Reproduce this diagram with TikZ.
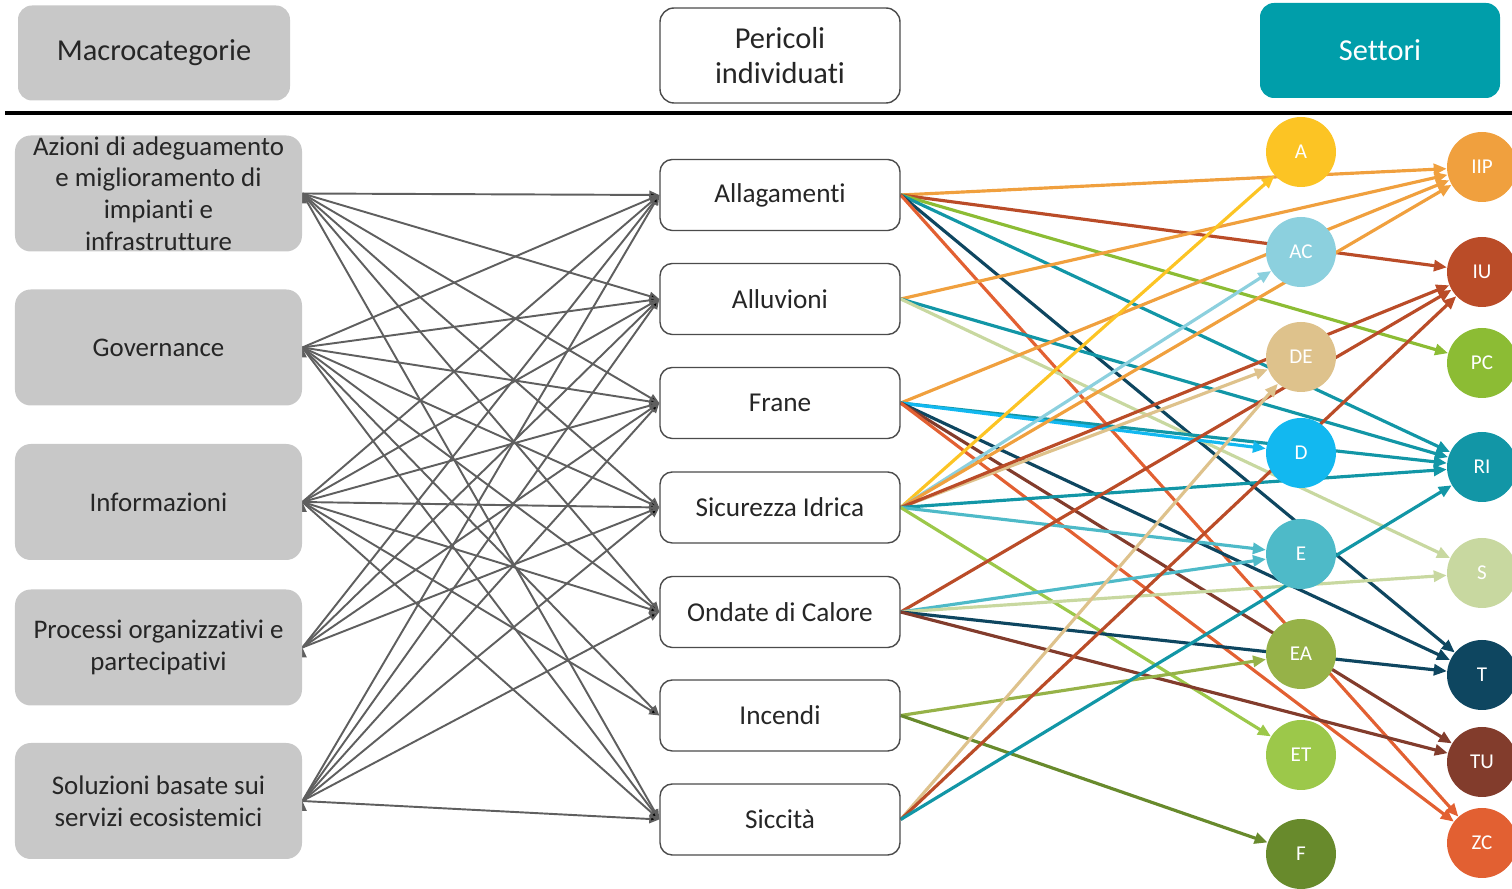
\documentclass[tikz,border=0pt]{standalone}
\usepackage{fontspec}
\setmainfont{Carlito}[Ligatures=NoCommon]
\usepackage{tikz}
\usetikzlibrary{
    arrows.meta,
    backgrounds
}
\definecolor{ink}{RGB}{38,38,38}
\definecolor{boxgrey}{RGB}{200,200,200}
\definecolor{edgegrey}{RGB}{95,95,95}
\definecolor{frame}{RGB}{75,75,75}
\definecolor{settori}{RGB}{0,158,170}
\definecolor{cA}{RGB}{252,196,36}
\definecolor{cAC}{RGB}{140,208,222}
\definecolor{cDE}{RGB}{222,194,140}
\definecolor{cD}{RGB}{18,184,240}
\definecolor{cE}{RGB}{78,186,200}
\definecolor{cEA}{RGB}{150,178,72}
\definecolor{cET}{RGB}{156,200,74}
\definecolor{cF}{RGB}{104,138,44}
\definecolor{cIIP}{RGB}{240,160,62}
\definecolor{cIU}{RGB}{186,76,40}
\definecolor{cPC}{RGB}{140,188,52}
\definecolor{cRI}{RGB}{18,150,166}
\definecolor{cS}{RGB}{200,216,160}
\definecolor{cT}{RGB}{14,70,96}
\definecolor{cTU}{RGB}{130,60,44}
\definecolor{cZC}{RGB}{226,96,50}
\tikzset{
    line cap=round,
    line join=round,
    headbox/.style={
        rectangle,
        rounded corners=8pt,
        minimum width=4.8cm,
        minimum height=1.9cm,
        align=center,
        text=ink,
        font=\fontsize{17.3}{20}\selectfont
    },
    macrobox/.style={
        rectangle,
        rounded corners=9pt,
        fill=boxgrey,
        minimum width=5.74cm,
        minimum height=2.32cm,
        inner ysep=0pt,
        align=center,
        text=ink,
        font=\fontsize{15.3}{18}\selectfont
    },
    hazardbox/.style={
        rectangle,
        rounded corners=7pt,
        draw=frame,
        line width=0.8pt,
        fill=white,
        minimum width=4.8cm,
        minimum height=1.42cm,
        text=ink,
        font=\fontsize{15.5}{18}\selectfont
    },
    sector/.style={
        circle,
        fill=#1,
        minimum size=1.4cm,
        inner sep=0pt,
        text=white,
        font=\fontsize{12}{14}\selectfont
    },
    link/.style={
        -{Triangle[length=0.2cm, width=0.17cm]},
        draw=edgegrey,
        line width=1.1pt
    },
    impact/.style={
        -{Triangle[length=0.26cm, width=0.22cm]},
        draw=#1,
        line width=1.8pt
    }
}

\begin{document}
\begin{tikzpicture}
\useasboundingbox (0,0) rectangle (30.24,17.78);

% Header row
\node[headbox, fill=boxgrey, minimum width=5.44cm] (hmacro) at (3.08,16.72) {Macrocategorie};
\node[headbox, draw=frame, line width=0.8pt, fill=white] (hhaz) at (15.6,16.67) {Pericoli\\individuati};
\node[headbox, fill=settori, text=white] (hsect) at (27.6,16.77) {Settori};
\draw[line width=1.8pt] (0.1,15.52) -- (30.24,15.52);

% Macrocategorie
\node[macrobox] (m1) at (3.17,13.91) {Azioni di adeguamento\\e miglioramento di\\impianti e\\infrastrutture};
\node[macrobox] (m2) at (3.17,10.83) {Governance};
\node[macrobox] (m3) at (3.17,7.74) {Informazioni};
\node[macrobox] (m4) at (3.17,4.83) {Processi organizzativi e\\partecipativi};
\node[macrobox] (m5) at (3.17,1.76) {Soluzioni basate sui\\servizi ecosistemici};

% Pericoli
\node[hazardbox] (p1) at (15.6,13.88) {Allagamenti};
\node[hazardbox] (p2) at (15.6,11.8) {Alluvioni};
\node[hazardbox] (p3) at (15.6,9.72) {Frane};
\node[hazardbox] (p4) at (15.6,7.63) {Sicurezza Idrica};
\node[hazardbox] (p5) at (15.6,5.54) {Ondate di Calore};
\node[hazardbox] (p6) at (15.6,3.47) {Incendi};
\node[hazardbox] (p7) at (15.6,1.39) {Siccità};

% Settori, first column
\node[sector=cA] (sA) at (26.02,14.74) {A};
\node[sector=cAC] (sAC) at (26.02,12.74) {AC};
\node[sector=cDE] (sDE) at (26.02,10.64) {DE};
\node[sector=cD] (sD) at (26.02,8.72) {D};
\node[sector=cE] (sE) at (26.02,6.7) {E};
\node[sector=cEA] (sEA) at (26.02,4.7) {EA};
\node[sector=cET] (sET) at (26.02,2.68) {ET};
\node[sector=cF] (sF) at (26.02,0.7) {F};

% Settori, second column
\node[sector=cIIP] (sIIP) at (29.64,14.44) {IIP};
\node[sector=cIU] (sIU) at (29.64,12.34) {IU};
\node[sector=cPC] (sPC) at (29.64,10.52) {PC};
\node[sector=cRI] (sRI) at (29.64,8.44) {RI};
\node[sector=cS] (sS) at (29.64,6.32) {S};
\node[sector=cT] (sT) at (29.64,4.28) {T};
\node[sector=cTU] (sTU) at (29.64,2.54) {TU};
\node[sector=cZC] (sZC) at (29.64,0.92) {ZC};

\begin{scope}[on background layer]
    % Macrocategorie -> pericoli
    \path[link] (m1.east) edge (p1.west) edge (p2.west) edge (p3.west) edge (p4.west) edge (p5.west) edge (p7.west);
    \path[link] (m2.east) edge (p1.west) edge (p2.west) edge (p3.west) edge (p4.west) edge (p5.west) edge (p6.west) edge (p7.west);
    \path[link] (m3.east) edge (p1.west) edge (p2.west) edge (p3.west) edge (p4.west) edge (p5.west) edge (p6.west) edge (p7.west);
    \path[link] (m4.east) edge (p1.west) edge (p2.west) edge (p3.west) edge (p4.west);
    \path[link] (m5.east) edge (p1.west) edge (p2.west) edge (p3.west) edge (p4.west) edge (p5.west) edge (p7.west);

    % Pericoli -> settori
    \path (p1.east) edge[impact=cIIP] (sIIP) edge[impact=cIU] (sIU) edge[impact=cPC] (sPC)
                    edge[impact=cRI] (sRI) edge[impact=cT] (sT) edge[impact=cZC] (sZC);
    \path (p2.east) edge[impact=cIIP] (sIIP) edge[impact=cRI] (sRI) edge[impact=cS] (sS);
    \path (p3.east) edge[impact=cIIP] (sIIP) edge[impact=cRI] (sRI) edge[impact=cD] (sD)
                    edge[impact=cT] (sT) edge[impact=cTU] (sTU) edge[impact=cZC] (sZC);
    \path (p4.east) edge[impact=cA] (sA) edge[impact=cAC] (sAC) edge[impact=cIIP] (sIIP)
                    edge[impact=cDE] (sDE) edge[impact=cIU] (sIU) edge[impact=cRI] (sRI)
                    edge[impact=cE] (sE) edge[impact=cET] (sET);
    \path (p5.east) edge[impact=cIU] (sIU) edge[impact=cE] (sE) edge[impact=cS] (sS)
                    edge[impact=cT] (sT) edge[impact=cTU] (sTU);
    \path (p6.east) edge[impact=cEA] (sEA) edge[impact=cF] (sF);
    \path (p7.east) edge[impact=cDE] (sDE) edge[impact=cIU] (sIU) edge[impact=cRI] (sRI);
\end{scope}
\end{tikzpicture}
\end{document}
